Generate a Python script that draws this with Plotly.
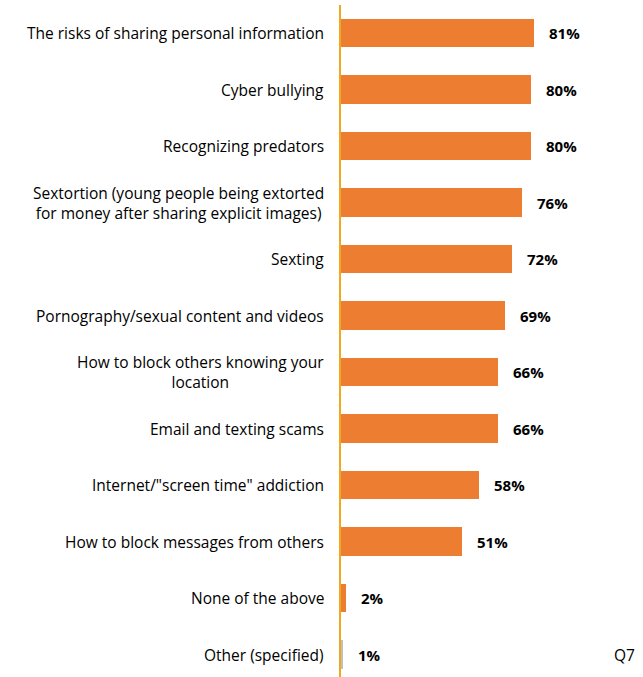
import plotly.graph_objects as go

categories = [
    "The risks of sharing personal information",
    "Cyber bullying",
    "Recognizing predators",
    "Sextortion (young people being extorted<br>for money after sharing explicit images)",
    "Sexting",
    "Pornography/sexual content and videos",
    "How to block others knowing your<br>location",
    "Email and texting scams",
    "Internet/\"screen time\" addiction",
    "How to block messages from others",
    "None of the above",
    "Other (specified)",
]
values = [81, 80, 80, 76, 72, 69, 66, 66, 58, 51, 2, 1]
bar_colors = ["#ED7D31"] * 11 + ["#BFBFBF"]

W, H = 643, 677
ax_left = 341
px_per_pct = 2.383
ax_right = ax_left + 100 * px_per_pct
FONT = "Open Sans, Noto Sans, sans-serif"

fig = go.Figure()
fig.add_trace(go.Bar(
    y=list(range(len(categories))),
    x=values,
    orientation="h",
    marker=dict(color=bar_colors, line=dict(width=0)),
    width=0.51,
    hoverinfo="skip",
    cliponaxis=False,
))

annotations = []
for i, (c, v) in enumerate(zip(categories, values)):
    annotations.append(dict(
        x=0, y=i, xref="x", yref="y", text=c, showarrow=False,
        xanchor="right", yanchor="middle", align="center", xshift=-15,
        font=dict(family=FONT, size=15.5, color="#000000"),
    ))
    annotations.append(dict(
        x=v, y=i, xref="x", yref="y", text=f"<b>{v}%</b>", showarrow=False,
        xanchor="left", yanchor="middle", xshift=13,
        font=dict(family=FONT, size=15, color="#000000"),
    ))
annotations.append(dict(
    x=(637 - ax_left) / (ax_right - ax_left), y=(H - 655) / (H - 5),
    xref="paper", yref="paper", text="Q7", showarrow=False,
    xanchor="right", yanchor="middle",
    font=dict(family=FONT, size=15.5, color="#000000"),
))

fig.update_layout(
    width=W, height=H,
    margin=dict(l=ax_left, r=W - ax_right, t=5, b=0),
    plot_bgcolor="white", paper_bgcolor="white",
    showlegend=False,
    bargap=0,
    xaxis=dict(range=[0, 100], visible=False, fixedrange=True),
    yaxis=dict(range=[11.398, -0.496], showticklabels=False, showgrid=False,
               zeroline=False, showline=True, linecolor="#F0A81E", linewidth=2,
               ticks=""),
    annotations=annotations,
)

fig.write_html("out.html")
